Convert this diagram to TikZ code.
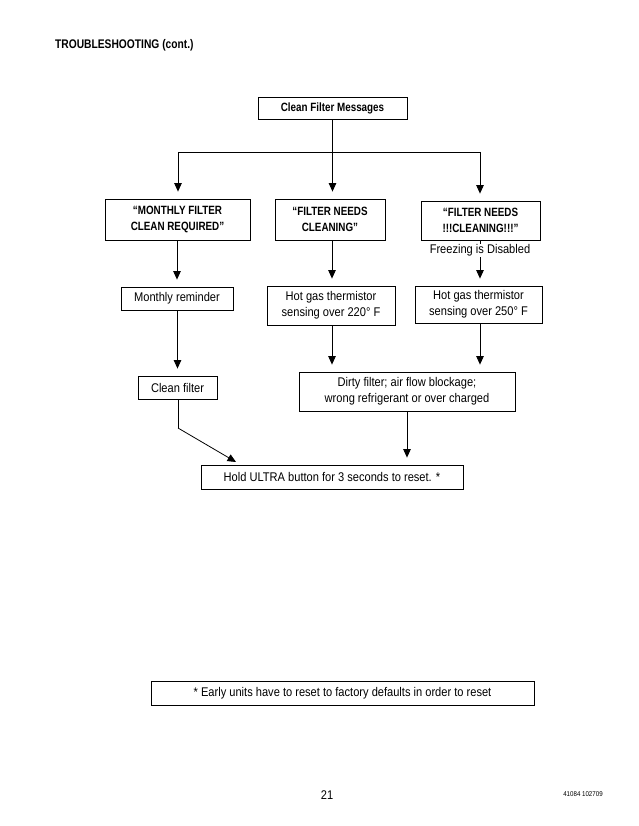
\documentclass[tikz,border=0pt]{standalone}
\usepackage{fontspec}
\setmainfont{Liberation Sans}[FakeStretch=0.88]
\newfontfamily\bfam{Liberation Sans}[FakeStretch=0.82]
\usetikzlibrary{arrows.meta}
\begin{document}
\begin{tikzpicture}[x=1pt,y=-1pt,
  box/.style={draw,line width=0.8pt,inner sep=0pt,align=center,font=\fontsize{12.6}{16}\selectfont},
  bbox/.style={box,font=\fontsize{12}{16}\selectfont\bfam\bfseries},
  con/.style={line width=0.8pt},
  arr/.style={con,-{Triangle[width=7.5pt,length=8.5pt]},shorten >=7pt}]
\useasboundingbox (0,0) rectangle (638,826);
\node[anchor=west,inner sep=0pt,font=\fontsize{12.5}{14}\selectfont\bfam\bfseries] (title) at (55,45) {TROUBLESHOOTING (cont.)};
\node[bbox,minimum width=149pt,minimum height=22pt] (top) at (332.5,108) {Clean Filter Messages};
\node[bbox,minimum width=145pt,minimum height=41pt] (m) at (177.5,219.5) {“MONTHLY FILTER\\CLEAN REQUIRED”};
\node[bbox,minimum width=110pt,minimum height=41pt] (c) at (330,219.5) {“FILTER NEEDS\\CLEANING”};
\node[bbox,minimum width=119pt,minimum height=39pt] (x) at (480.5,220.5) {“FILTER NEEDS\\!!!CLEANING!!!”};
\node[font=\fontsize{12.6}{14}\selectfont,inner sep=1pt] (fz) at (480,250) {Freezing is Disabled};
\node[box,minimum width=112pt,minimum height=23pt] (mr) at (177,298.5) {Monthly reminder};
\node[box,minimum width=128pt,minimum height=39pt] (h1) at (331,305.5) {Hot gas thermistor\\sensing over 220° F};
\node[box,minimum width=127pt,minimum height=37pt] (h2) at (478.5,304.5) {Hot gas thermistor\\sensing over 250° F};
\node[box,minimum width=79pt,minimum height=23pt] (cf) at (177.5,387.5) {Clean filter};
\node[box,minimum width=216pt,minimum height=39pt] (df) at (407,391.5) {Dirty filter; air flow blockage;\\wrong refrigerant or over charged};
\node[box,minimum width=262pt,minimum height=24pt] (hold) at (332,477) {Hold ULTRA button for 3 seconds to reset. *};
\node[box,minimum width=383pt,minimum height=24pt] (fn) at (342.5,693) {* Early units have to reset to factory defaults in order to reset};
\node[font=\fontsize{12.6}{13}\selectfont] (pg) at (327,795) {21};
\node[font=\fontsize{7}{8}\selectfont] (code) at (583,794) {41084 102709};
\coordinate (jl) at (178,152);
\coordinate (jr) at (480,152);
\coordinate (jc) at (332.5,152);
\coordinate (bend) at (178,428);
\draw[con] (top.south) -- (jc);
\draw[con] (jl) -- (jr);
\draw[arr] (jl) -- (jl |- m.north);
\draw[arr] (jc) -- (jc |- c.north);
\draw[arr] (jr) -- (jr |- x.north);
\draw[arr] (m.south -| mr.north) -- (mr.north);
\draw[arr] (c.south -| 332,0) -- (332,0 |- h1.north);
\draw[con] (x.south -| 480,0) -- (480,244);
\draw[arr] (fz.south -| 480,0) -- (480,0 |- h2.north);
\draw[arr] (mr.south -| cf.north) -- (cf.north);
\draw[arr] (h1.south -| 332,0) -- (332,0 |- df.north);
\draw[arr] (h2.south -| 480,0) -- (480,0 |- df.north);
\draw[con] (cf.south -| bend) -- (bend);
\draw[con,-{Triangle[width=7.5pt,length=8.5pt]}] (bend) -- (236,462);
\draw[arr] (df.south) -- (df.south |- hold.north);
\end{tikzpicture}
\end{document}
